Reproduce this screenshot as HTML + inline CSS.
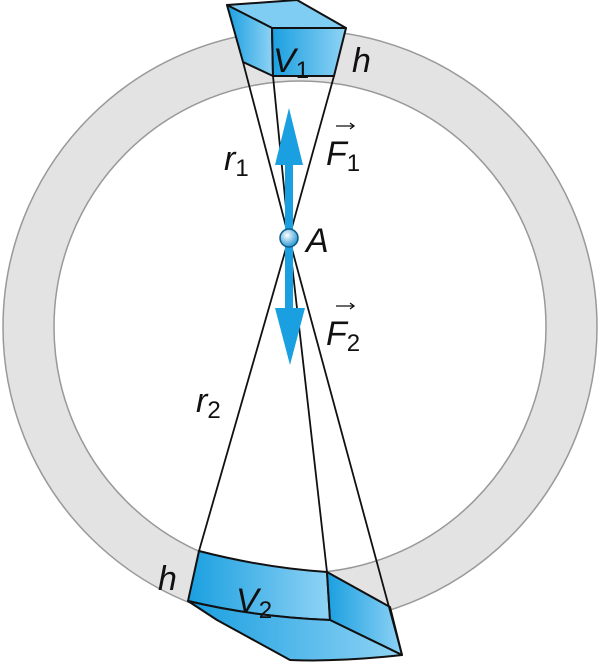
<!DOCTYPE html>
<html><head><style>body{margin:0;background:#fff}svg{display:block}text{font-family:"Liberation Sans",sans-serif;font-style:italic;fill:#111}</style></head>
<body>
<svg width="600" height="668" viewBox="0 0 600 668">
<defs>
<linearGradient id="g" x1="0" x2="1"><stop offset="0" stop-color="#1a9fe0"/><stop offset="1" stop-color="#8fd3f5"/></linearGradient>
<radialGradient id="b" cx="0.4" cy="0.35" r="0.7"><stop offset="0" stop-color="#fff"/><stop offset="1" stop-color="#1a8fd0"/></radialGradient>
</defs>
<path fill-rule="evenodd" fill="#e3e3e3" stroke="#999" stroke-width="1.5" d="M3,327a297,297 0 1,0 594,0a297,297 0 1,0 -594,0Z M54,327a246,246 0 1,0 492,0a246,246 0 1,0 -492,0Z"/>
<g stroke="#111" stroke-width="2" stroke-linejoin="round">
<polygon points="227,5 297,0 346,28 272,28" fill="#7fcdf2"/>
<polygon points="227,5 272,28 273,76 243,62" fill="url(#g)"/>
<polygon points="272,28 346,28 334,76 273,76" fill="url(#g)"/>
<path d="M199,551 Q265,568 327,572 L330,620 Q255,617 188,601 Z" fill="url(#g)"/>
<polygon points="327,572 390,607 402,655 330,620" fill="url(#g)"/>
<path d="M188,601 Q255,617 330,620 L402,655 Q340,662 290,660 L217,620 Z" fill="url(#g)"/>
<g fill="none" stroke-width="1.8">
<line x1="243" y1="62" x2="289" y2="238"/>
<line x1="273" y1="76" x2="289" y2="238"/>
<line x1="334" y1="76" x2="289" y2="238"/>
<line x1="289" y1="238" x2="199" y2="551"/>
<line x1="289" y1="238" x2="327" y2="572"/>
<line x1="289" y1="238" x2="402" y2="655"/>
</g>
</g>
<g fill="#1a9fe0">
<rect x="285" y="140" width="8" height="98"/>
<polygon points="289,108 275,165 303,165"/>
<rect x="285" y="238" width="8" height="75"/>
<polygon points="290,365 275,308 305,308"/>
</g>
<circle cx="289" cy="238" r="9" fill="url(#b)" stroke="#0a5a8a" stroke-width="1.5"/>
<g font-size="34">
<text x="273" y="72">V<tspan font-size="24" font-style="normal" dy="6">1</tspan></text>
<text x="352" y="72">h</text>
<text x="224" y="170">r<tspan font-size="24" font-style="normal" dy="6">1</tspan></text>
<text x="326" y="165">F<tspan font-size="24" font-style="normal" dy="6">1</tspan></text>
<text x="306" y="252">A</text>
<text x="326" y="345">F<tspan font-size="24" font-style="normal" dy="6">2</tspan></text>
<text x="196" y="412">r<tspan font-size="24" font-style="normal" dy="6">2</tspan></text>
<text x="158" y="590">h</text>
<text x="236" y="612">V<tspan font-size="24" font-style="normal" dy="6">2</tspan></text>
</g>
<g stroke="#111" stroke-width="1.3" fill="none">
<path d="M336,126h18m-4,-3l4,3l-4,3"/>
<path d="M336,306h18m-4,-3l4,3l-4,3"/>
</g>
</svg>
</body></html>
